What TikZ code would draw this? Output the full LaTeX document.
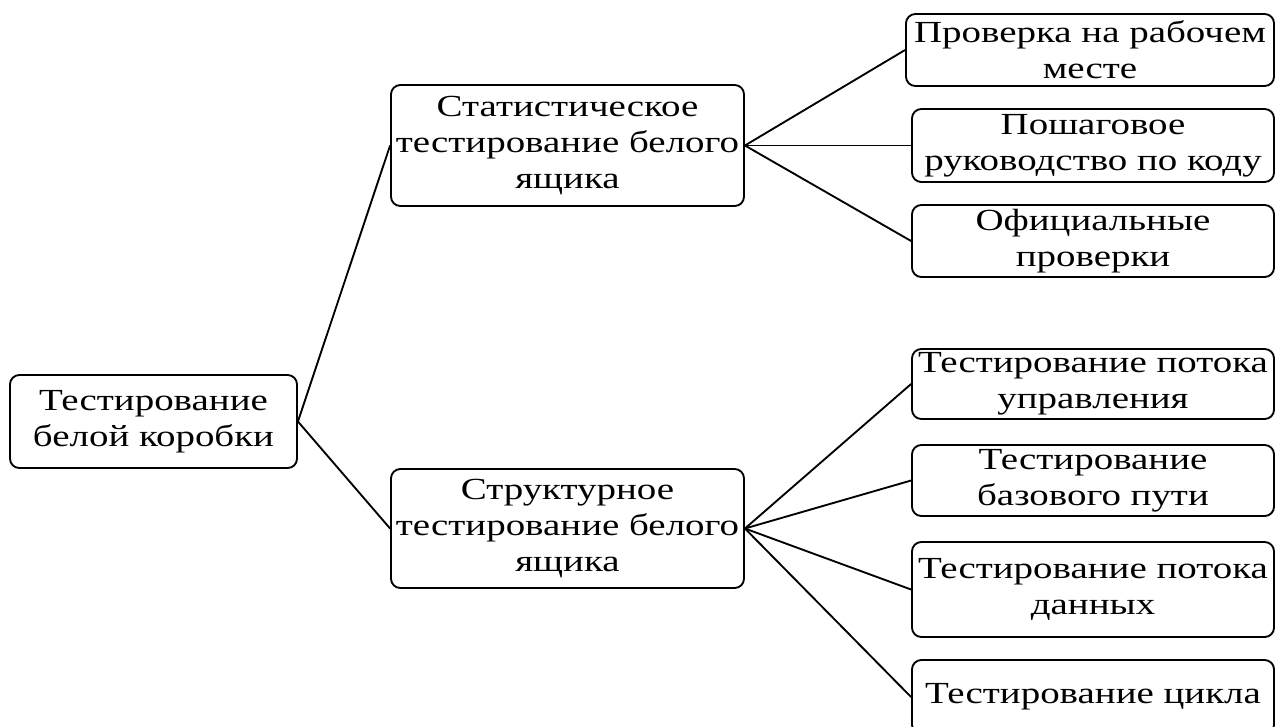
\documentclass[tikz,border=0pt]{standalone}
\usepackage{fontspec}
\setmainfont{Liberation Serif}
\newfontfamily\boxfont{Liberation Serif}[FakeStretch=1.27]
\begin{document}
\begin{tikzpicture}[x=0.75pt,y=-0.75pt,
  box/.style={draw=black, line width=1.4pt, rounded corners=7pt, align=center,
    inner sep=0pt, font=\boxfont\fontsize{23}{27}\selectfont, text=black},
  link/.style={draw=black, line width=1.4pt}]
\useasboundingbox (0,0) rectangle (1276,726);
\clip (0,0) rectangle (1276,726);
\fill[white] (0,0) rectangle (1276,726);
\node[box, minimum width=287*0.75pt, minimum height=93*0.75pt] (root) at (153.5,421.5) {Тестирование\\белой коробки};
\node[box, minimum width=353*0.75pt, minimum height=121*0.75pt] (stat) at (567.5,145.5) {Статистическое\\тестирование белого\\ящика};
\node[box, minimum width=353*0.75pt, minimum height=119*0.75pt] (struct) at (567.5,528.5) {Структурное\\тестирование белого\\ящика};
\node[box, minimum width=368*0.75pt, minimum height=72*0.75pt] (r1) at (1090,50) {Проверка на рабочем\\месте};
\node[box, minimum width=362*0.75pt, minimum height=73*0.75pt] (r2) at (1093,145.5) {Пошаговое\\руководство по коду};
\node[box, minimum width=362*0.75pt, minimum height=72*0.75pt] (r3) at (1093,241) {Официальные\\проверки};
\node[box, minimum width=362*0.75pt, minimum height=70*0.75pt] (r4) at (1093,384) {Тестирование потока\\управления};
\node[box, minimum width=362*0.75pt, minimum height=71*0.75pt] (r5) at (1093,480.5) {Тестирование\\базового пути};
\node[box, minimum width=362*0.75pt, minimum height=95*0.75pt] (r6) at (1093,589.5) {Тестирование потока\\данных};
\node[box, minimum width=362*0.75pt, minimum height=74*0.75pt] (r7) at (1093,697) {Тестирование цикла};
\draw[link] (root.east) -- (stat.west);
\draw[link] (root.east) -- (struct.west);
\draw[link] (stat.east) -- (r1.west);
\draw[link] (stat.east) -- (r2.west);
\draw[link] (stat.east) -- (r3.west);
\draw[link] (struct.east) -- (r4.west);
\draw[link] (struct.east) -- (r5.west);
\draw[link] (struct.east) -- (r6.west);
\draw[link] (struct.east) -- (r7.west);
\end{tikzpicture}
\end{document}
